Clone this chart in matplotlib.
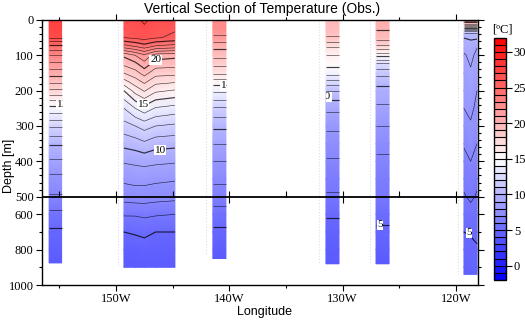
import numpy as np
import matplotlib
matplotlib.use('Agg')
import matplotlib.pyplot as plt
from matplotlib.colors import Normalize
from matplotlib.transforms import Bbox, TransformedBbox

# ---- observed profiles (longitude in deg E, depth in m, temperature in degC)
# station A (~155W)
lon_a = [-155.9, -154.8]
depth_a = [0, 25, 50, 75, 100, 125, 150, 175, 200, 225, 250, 300, 350, 400, 450, 500, 600, 700, 800, 875]
temp_a = [27.5, 27.4, 27.0, 24.6, 23.0, 21.7, 20.5, 19.2, 17.8, 16.0, 14.6, 12.1, 10.1, 8.8, 7.7, 6.9, 5.7, 4.8, 4.4, 4.2]

# station B (wide section ~149W-145W), one profile per longitude
lon_b = [-149.3, -148.3, -147.5, -146.5, -144.8]
depth_b = [0, 25, 50, 75, 100, 125, 150, 175, 200, 250, 300, 350, 400, 450, 500, 600, 700, 800, 900]
temp_b = [
    [26.4, 26.3, 26.0, 23.5, 20.2, 19.2, 18.0, 16.6, 15.0, 13.0, 11.6, 10.3, 9.1, 8.2, 7.4, 6.1, 5.0, 4.5, 4.2],
    [26.7, 26.5, 26.2, 24.0, 21.0, 19.7, 18.6, 17.5, 16.4, 14.0, 12.0, 10.5, 9.2, 8.3, 7.5, 6.1, 5.1, 4.5, 4.2],
    [27.2, 26.8, 26.4, 24.5, 21.8, 20.6, 19.4, 18.2, 17.1, 14.6, 12.4, 10.8, 9.3, 8.3, 7.5, 6.2, 5.2, 4.6, 4.2],
    [26.6, 26.4, 26.1, 23.8, 20.5, 19.5, 18.4, 17.3, 16.2, 13.9, 12.0, 10.4, 9.2, 8.2, 7.4, 6.1, 5.0, 4.5, 4.2],
    [26.3, 26.1, 25.8, 23.5, 20.3, 19.4, 18.3, 17.1, 15.9, 13.6, 11.8, 10.3, 9.1, 8.1, 7.3, 6.0, 5.0, 4.5, 4.2],
]

# station C (~141W)
lon_c = [-141.45, -140.3]
depth_c = [0, 25, 50, 75, 100, 125, 150, 175, 200, 250, 300, 350, 400, 450, 500, 600, 700, 800, 850]
temp_c = [22.8, 22.6, 21.7, 20.3, 19.3, 18.2, 17.1, 15.5, 14.2, 11.8, 10.2, 9.0, 8.0, 7.2, 6.5, 5.5, 4.8, 4.3, 4.1]

# station D (~131W)
lon_d = [-131.47, -130.32]
depth_d = [0, 25, 50, 75, 100, 125, 150, 175, 200, 225, 250, 300, 350, 400, 450, 500, 600, 700, 800, 880]
temp_d = [19.6, 19.4, 18.9, 17.0, 16.0, 15.3, 14.3, 12.6, 11.0, 10.0, 9.2, 8.2, 7.5, 6.9, 6.3, 5.9, 5.1, 4.6, 4.3, 4.1]

# station E (~126W)
lon_e = [-127.05, -125.9]
depth_e = [0, 25, 50, 75, 100, 125, 150, 175, 200, 250, 300, 350, 400, 450, 500, 600, 700, 800, 880]
temp_e = [20.3, 20.1, 19.5, 17.7, 15.2, 12.7, 11.3, 10.4, 9.6, 8.8, 8.0, 7.3, 6.8, 6.3, 6.0, 5.3, 4.8, 4.4, 4.1]

# station F (~119W)
lon_f = [-119.29, -118.7, -118.14]
depth_f = [0, 10, 20, 30, 40, 60, 80, 100, 150, 200, 250, 300, 350, 400, 450, 500, 600, 700, 800, 900, 940]
temp_f = [
    [21.5, 19.0, 16.0, 12.5, 10.5, 9.6, 9.2, 8.9, 8.6, 8.3, 8.0, 7.6, 7.1, 6.7, 6.3, 5.9, 5.5, 5.0, 4.8, 4.6, 4.5],
    [21.5, 19.0, 16.0, 12.5, 10.5, 9.9, 9.5, 9.2, 8.9, 8.6, 8.2, 7.9, 7.6, 7.0, 6.6, 6.2, 5.6, 5.05, 4.85, 4.7, 4.6],
    [21.5, 19.0, 16.0, 12.5, 10.5, 9.8, 9.0, 8.8, 8.5, 8.0, 7.8, 7.6, 7.0, 6.8, 6.2, 5.9, 5.5, 5.2, 4.9, 4.7, 4.6],
]

# faint station markers (dotted)
dot_lons = [-149.82, -142.06, -132.08, -127.58, -119.82]
dot_bottom = [900, 830, 880, 880, 940]

# contour labels: (station, text, lon, depth)
label_specs = [(0, '15', -154.75, 240), (1, '20', -146.5, 113), (1, '15', -147.6, 238),
               (1, '10', -146.1, 368), (2, '15', -140.25, 185), (3, '10', -131.5, 217),
               (4, '5', -126.7, 660), (5, '5', -118.84, 705)]

xtick_vals = [-150, -140, -130, -120]
xtick_labels = ['150W', '140W', '130W', '120W']
xminor_vals = [-155, -145, -135, -125]
ytick_vals = [0, 100, 200, 300, 400, 500, 600, 800, 1000]
cbar_ticks = [0, 5, 10, 15, 20, 25, 30]
levels = np.arange(-2, 33, 1)

serif = 'Liberation Serif'
sans = 'Liberation Sans'


def fwd(d):
    d = np.asarray(d, float)
    return np.where(d <= 500, d, 500 + (d - 500) / 2.0)


def inv(v):
    v = np.asarray(v, float)
    return np.where(v <= 500, v, 500 + (v - 500) * 2.0)


fig = plt.figure(figsize=(5.25, 3.21), dpi=100)
ax = fig.add_axes([42 / 525, 1 - 285 / 321, 436 / 525, 265 / 321])
ax.set_yscale('function', functions=(fwd, inv))

cmap = plt.get_cmap('bwr')
norm = Normalize(-2, 32)
lws = [0.85 if l % 5 == 0 else 0.45 for l in levels]

stations = [(lon_a, depth_a, temp_a), (lon_b, depth_b, temp_b), (lon_c, depth_c, temp_c),
            (lon_d, depth_d, temp_d), (lon_e, depth_e, temp_e), (lon_f, depth_f, temp_f)]

pcm = None
for lons, deps, temps in stations:
    T = np.array(temps, float)
    if T.ndim == 1:
        T = np.tile(T[:, None], (1, len(lons)))
    else:
        T = T.T
    X, Y = np.meshgrid(lons, deps)
    pcm = ax.pcolormesh(X, Y, T, shading='gouraud', cmap=cmap, norm=norm)
    ax.contour(X, Y, T, levels=levels, colors='k', linewidths=lws, alpha=0.75)

ax.vlines(dot_lons, 0, dot_bottom, colors='#dcdcf2', linestyles=':', lw=0.8, zorder=0.5)

ax.set_xlim(-156.53, -118.05)
ax.set_ylim(1000, 0)

# labels are clipped to their station column
for st, txt, lx, ly in label_specs:
    lons, deps, _ = stations[st]
    t = ax.text(lx, ly, txt, family=serif, fontsize=8, ha='center', va='center',
                bbox=dict(facecolor='white', edgecolor='none', pad=0.5), zorder=4)
    t.set_clip_box(TransformedBbox(Bbox([[lons[0], 0], [lons[-1], deps[-1]]]), ax.transData))
    t.set_clip_on(True)

# axis break at 500 m
ax.axhline(500, color='k', lw=1.3, zorder=5)
ax.plot(xtick_vals, [500] * len(xtick_vals), ls='none', marker='|', ms=8, mew=0.8, color='k', zorder=6)
ax.plot(xminor_vals, [500] * len(xminor_vals), ls='none', marker=2, ms=4, mew=0.8, color='k', zorder=6)

ax.set_xticks(xtick_vals, xtick_labels)
ax.set_xticks(xminor_vals, minor=True)
ax.set_yticks(ytick_vals, [str(v) for v in ytick_vals])
ax.set_yticks([v for v in range(20, 500, 20) if v % 100] + [700, 900], minor=True)
ax.tick_params(which='both', direction='out', top=True, right=True, width=0.8)
ax.tick_params(which='major', length=4, labelsize=9, pad=2)
ax.tick_params(which='minor', length=2.5)
for lab in ax.get_xticklabels() + ax.get_yticklabels():
    lab.set_family(serif)
for sp in ax.spines.values():
    sp.set_linewidth(1.0)

ax.set_xlabel('Longitude', family=sans, fontsize=9)
ax.xaxis.set_label_coords(0.51, -0.078)
ax.set_ylabel('Depth [m]', family=sans, fontsize=9)
ax.yaxis.set_label_coords(-0.062, 0.45)
fig.text(262 / 525, 1 - 9 / 321, 'Vertical Section of Temperature (Obs.)', family=sans,
         fontsize=10, ha='center', va='center')

# colour bar
cax = fig.add_axes([494 / 525, 1 - 280 / 321, 11.5 / 525, 242.3 / 321])
cb = fig.colorbar(pcm, cax=cax, boundaries=levels, values=levels[:-1] + 0.5,
                  drawedges=True, ticks=cbar_ticks)
cb.dividers.set_linewidth(0.8)
cb.outline.set_linewidth(1.0)
cax.tick_params(direction='out', length=4, width=0.8, labelsize=9, pad=2)
for lab in cax.get_yticklabels():
    lab.set_family(serif)
cax.text(0.7, 1.01, '[ºC]', transform=cax.transAxes, ha='center', va='bottom',
         family=serif, fontsize=9)

fig.savefig('out.png', dpi=100)
